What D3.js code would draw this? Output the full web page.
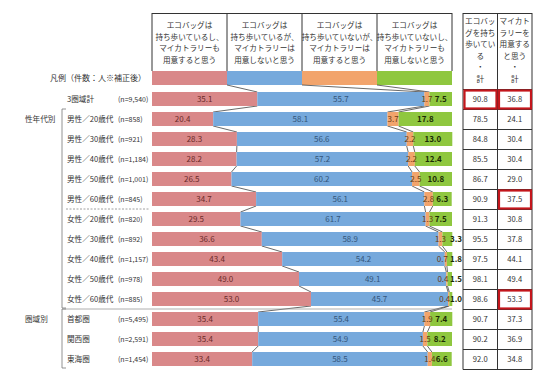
<!DOCTYPE html>
<html>
<head>
<meta charset="utf-8">
<script src="https://cdn.jsdelivr.net/npm/d3@7"></script>
<style>
  body { margin: 0; background: #fff; }
  text { font-family: "Noto Sans CJK JP", "Noto Sans", sans-serif; }
</style>
</head>
<body>
<div id="chart"></div>
<script>
// answer categories (stack order, left to right)
var answers = [
    ['エコバッグは', '持ち歩いているし、', 'マイカトラリーも', '用意すると思う'],
    ['エコバッグは', '持ち歩いているが、', 'マイカトラリーは', '用意しないと思う'],
    ['エコバッグは', '持ち歩いていないが、', 'マイカトラリーは', '用意すると思う'],
    ['エコバッグは', '持ち歩いていないし、', 'マイカトラリーも', '用意しないと思う']
];
var rowLabels = ['3圏域計', '男性／20歳代', '男性／30歳代', '男性／40歳代', '男性／50歳代', '男性／60歳代',
    '女性／20歳代', '女性／30歳代', '女性／40歳代', '女性／50歳代', '女性／60歳代',
    '首都圏', '関西圏', '東海圏'];
var rowN = ['(n=9,540)', '(n=858)', '(n=921)', '(n=1,184)', '(n=1,001)', '(n=845)',
    '(n=820)', '(n=892)', '(n=1,157)', '(n=978)', '(n=885)',
    '(n=5,495)', '(n=2,591)', '(n=1,454)'];
var bothYes  = [35.1, 20.4, 28.3, 28.2, 26.5, 34.7, 29.5, 36.6, 43.4, 49.0, 53.0, 35.4, 35.4, 33.4];
var bagOnly  = [55.7, 58.1, 56.6, 57.2, 60.2, 56.1, 61.7, 58.9, 54.2, 49.1, 45.7, 55.4, 54.9, 58.5];
var cutOnly  = [1.7, 3.7, 2.2, 2.2, 2.5, 2.8, 1.3, 1.3, 0.7, 0.4, 0.4, 1.9, 1.5, 1.4];
var neither  = [7.5, 17.8, 13.0, 12.4, 10.8, 6.3, 7.5, 3.3, 1.8, 1.5, 1.0, 7.4, 8.2, 6.6];
var bagTotal = [90.8, 78.5, 84.8, 85.5, 86.7, 90.9, 91.3, 95.5, 97.5, 98.1, 98.6, 90.7, 90.2, 92.0];
var cutTotal = [36.8, 24.1, 30.4, 30.4, 29.0, 37.5, 30.8, 37.8, 44.1, 49.4, 53.3, 37.3, 36.9, 34.8];
var totalHeads = [['エコバッ', 'グを持ち', '歩いてい', 'る', '・', '計'],
                  ['マイカト', 'ラリーを', '用意する', 'と思う', '・', '計']];
// highlighted cells [row, column]
var highlights = [[0, 0], [0, 1], [5, 1], [10, 1]];
var groups = [{label: '性年代別', from: 1, to: 10}, {label: '圏域別', from: 11, to: 13}];

var W = 550, H = 380;
var colors = ['#d98889', '#76a9dc', '#f2a46c', '#8fc73f'];
var textColors = ['#6a2a2a', '#34557a', '#6a3a12', '#1b2a05'];

var svg = d3.select('#chart').append('svg')
    .attr('width', W).attr('height', H);

var x = d3.scaleLinear().domain([0, 100]).range([152, 452]);
var y = d3.scaleBand().domain(d3.range(rowLabels.length))
    .range([89, 369]).paddingInner(0.3).paddingOuter(0.15);
var bh = y.bandwidth();
function cy(i) { return y(i) + bh / 2; }

var rows = rowLabels.map(function(l, i) {
    return {i: i, values: [bothYes[i], bagOnly[i], cutOnly[i], neither[i]]};
});
var stack = d3.stack().keys([0, 1, 2, 3]).value(function(d, k) { return d.values[k]; });
var series = stack(rows);

// header boxes
var head = svg.append('g');
var hx = d3.scaleBand().domain(d3.range(4)).range([152, 452]);
head.selectAll('line.v').data(d3.range(5)).enter().append('line')
    .attr('x1', function(d) { return 152 + d * hx.bandwidth(); })
    .attr('x2', function(d) { return 152 + d * hx.bandwidth(); })
    .attr('y1', 13).attr('y2', 71)
    .attr('stroke', '#333').attr('stroke-width', 1);
head.append('line').attr('x1', 152).attr('x2', 452).attr('y1', 13.5).attr('y2', 13.5)
    .attr('stroke', '#333');
answers.forEach(function(lines, k) {
    head.selectAll(null).data(lines).enter().append('text')
        .attr('x', hx(k) + hx.bandwidth() / 2)
        .attr('y', function(d, j) { return 28 + j * 11.7; })
        .attr('text-anchor', 'middle')
        .attr('font-size', 7.6).attr('fill', '#333')
        .text(function(d) { return d; });
});

// legend row
var legY = 71;
svg.selectAll('rect.leg').data(d3.range(4)).enter().append('rect')
    .attr('x', function(d) { return hx(d); }).attr('y', legY)
    .attr('width', hx.bandwidth()).attr('height', bh)
    .attr('fill', function(d) { return colors[d]; });
svg.append('text').attr('x', 146).attr('y', legY + bh / 2 + 3)
    .attr('text-anchor', 'end').attr('font-size', 8).attr('fill', '#333')
    .text('凡例（件数：人※補正後）');

// connector lines between adjacent bars
var links = [];
[1, 2, 3].forEach(function(k) {
    links.push({x1: hx(k), y1: legY + bh, x2: x(series[k][0][0]), y2: y(0)});
    for (var i = 0; i < rows.length - 1; i++) {
        links.push({x1: x(series[k][i][0]), y1: y(i) + bh,
                    x2: x(series[k][i + 1][0]), y2: y(i + 1)});
    }
});
svg.append('g').selectAll('line').data(links).enter().append('line')
    .attr('x1', function(d) { return d.x1; }).attr('y1', function(d) { return d.y1; })
    .attr('x2', function(d) { return d.x2; }).attr('y2', function(d) { return d.y2; })
    .attr('stroke', '#444').attr('stroke-width', 0.8);

// bars
var layer = svg.append('g').selectAll('g').data(series).enter().append('g')
    .attr('fill', function(d) { return colors[d.key]; });
layer.selectAll('rect').data(function(d) { return d; }).enter().append('rect')
    .attr('x', function(d) { return x(d[0]); })
    .attr('y', function(d) { return y(d.data.i); })
    .attr('width', function(d) { return x(d[1]) - x(d[0]); })
    .attr('height', bh);

// bar value labels
series.forEach(function(s) {
    var k = s.key;
    svg.append('g').selectAll('text').data(s).enter().append('text')
        .attr('x', function(d) {
            var c = (x(d[0]) + x(d[1])) / 2;
            if (k === 3 && d.data.values[k] < 5) return x(100) - 2;
            if (k === 2 && d.data.values[k] < 1) return x(d[1]) + 1;
            return c;
        })
        .attr('y', function(d) { return cy(d.data.i) + 3; })
        .attr('text-anchor', function(d) {
            if (k === 3 && d.data.values[k] < 5) return 'start';
            if (k === 2 && d.data.values[k] < 1) return 'end';
            return 'middle';
        })
        .attr('font-size', 8)
        .attr('font-weight', k === 3 ? 'bold' : 'normal')
        .attr('fill', textColors[k])
        .text(function(d) { return d.data.values[k].toFixed(1); });
});

// row labels
svg.append('g').selectAll('text').data(rowLabels).enter().append('text')
    .attr('x', 67).attr('y', function(d, i) { return cy(i) + 3; })
    .attr('font-size', 7.6).attr('fill', '#333')
    .text(function(d) { return d; });
svg.append('g').selectAll('text').data(rowN).enter().append('text')
    .attr('x', 118).attr('y', function(d, i) { return cy(i) + 3; })
    .attr('font-size', 7).attr('fill', '#333')
    .text(function(d) { return d; });

// group brackets
groups.forEach(function(g) {
    var top = y(g.from) - 3, bottom = y(g.to) + bh + 2;
    svg.append('path')
        .attr('d', 'M66,' + top + 'H62V' + bottom + 'H66')
        .attr('fill', 'none').attr('stroke', '#777').attr('stroke-width', 0.8);
    svg.append('text').attr('x', 25).attr('y', cy(g.from) + 3)
        .attr('font-size', 7.6).attr('fill', '#333').text(g.label);
});
// 男性 / 女性 divider and group divider
svg.append('line').attr('x1', 66).attr('x2', 150)
    .attr('y1', (y(5) + bh + y(6)) / 2).attr('y2', (y(5) + bh + y(6)) / 2)
    .attr('stroke', '#888').attr('stroke-width', 0.8).attr('stroke-dasharray', '2,1.5');
svg.append('line').attr('x1', 62).attr('x2', 452)
    .attr('y1', (y(10) + bh + y(11)) / 2).attr('y2', (y(10) + bh + y(11)) / 2)
    .attr('stroke', '#999').attr('stroke-width', 0.8);

// totals table
var tx = d3.scaleBand().domain([0, 1]).range([463, 532]);
var tTop = 13, tHeadBottom = 89, tBottom = 369;
var rowEdges = d3.range(rowLabels.length + 1).map(function(i) { return tHeadBottom + i * 20; });
var table = svg.append('g').attr('stroke', '#333').attr('stroke-width', 1);
table.selectAll('line.h').data([tTop].concat(rowEdges)).enter().append('line')
    .attr('x1', 463).attr('x2', 532)
    .attr('y1', function(d) { return d + 0.5; }).attr('y2', function(d) { return d + 0.5; });
table.selectAll('line.v').data([463, 497.5, 532]).enter().append('line')
    .attr('x1', function(d) { return d; }).attr('x2', function(d) { return d; })
    .attr('y1', tTop).attr('y2', tBottom + 0.5);

totalHeads.forEach(function(lines, c) {
    svg.append('g').selectAll('text').data(lines).enter().append('text')
        .attr('x', tx(c) + tx.bandwidth() / 2)
        .attr('y', function(d, j) { return 24 + j * 11.6; })
        .attr('text-anchor', 'middle').attr('font-size', 7.6).attr('fill', '#333')
        .text(function(d) { return d; });
});
[bagTotal, cutTotal].forEach(function(vals, c) {
    svg.append('g').selectAll('text').data(vals).enter().append('text')
        .attr('x', tx(c) + tx.bandwidth() / 2)
        .attr('y', function(d, i) { return rowEdges[i] + 13; })
        .attr('text-anchor', 'middle').attr('font-size', 7.6).attr('fill', '#333')
        .text(function(d) { return d.toFixed(1); });
});
svg.append('g').selectAll('rect').data(highlights).enter().append('rect')
    .attr('x', function(d) { return tx(d[1]) + 1.5; })
    .attr('y', function(d) { return rowEdges[d[0]] + 1.5; })
    .attr('width', tx.bandwidth() - 2.5).attr('height', 18)
    .attr('fill', 'none').attr('stroke', '#c4161c').attr('stroke-width', 2.2);
</script>
</body>
</html>
